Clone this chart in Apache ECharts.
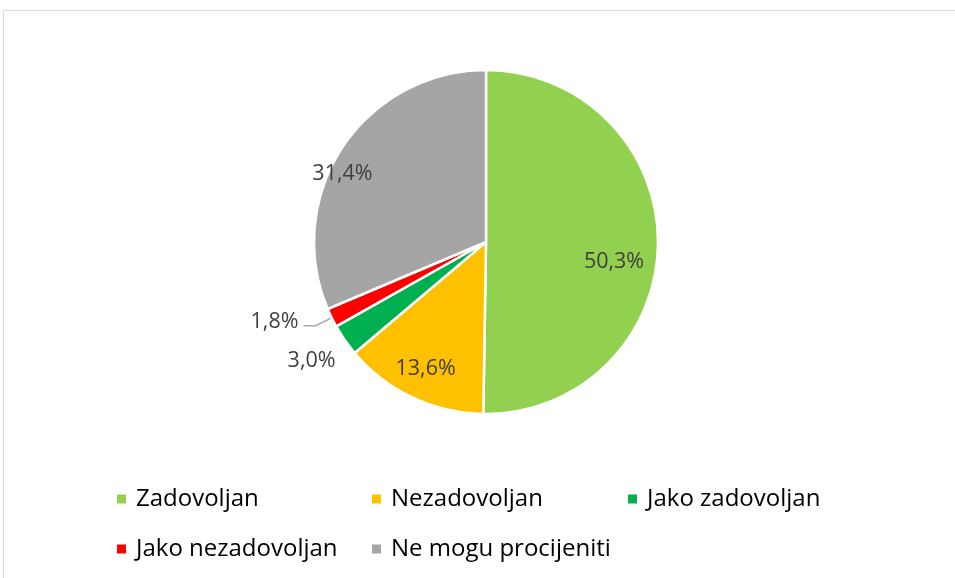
<!DOCTYPE html>
<html>
<head>
<meta charset="utf-8">
<script src="https://cdn.jsdelivr.net/npm/echarts@6/dist/echarts.min.js"></script>
<style>html,body{margin:0;padding:0;background:#fff}#c{width:955px;height:578px}</style>
</head>
<body>
<div id="c"></div>
<script>
const categories = ['Zadovoljan', 'Nezadovoljan', 'Jako zadovoljan', 'Jako nezadovoljan', 'Ne mogu procijeniti'];
const values = [50.3, 13.6, 3.0, 1.8, 31.4];
const colors = ['#92D050', '#FFC000', '#00B050', '#FF0000', '#A5A5A5'];

const FONT = '"Open Sans", sans-serif';
const fmt = v => v.toFixed(1).replace('.', ',') + '%';

// label styling per category (inside vs outside)
const labelStyle = {
  'Zadovoljan': { position: 'inside', offset: [-13, 19] },
  'Nezadovoljan': { position: 'inside', offset: [0, -1] },
  'Jako zadovoljan': { position: 'outside', offset: [4, 15], line: false, length: 10, length2: 0 },
  'Jako nezadovoljan': { position: 'outside', offset: [0, -4], line: true, length: 18, length2: 12 },
  'Ne mogu procijeniti': { position: 'inside', offset: [-26, 10] }
};

const mainData = categories.map((c, i) => ({ name: c, value: values[i], itemStyle: { color: colors[i] } }));
const labelData = categories.map((c, i) => {
  const s = labelStyle[c];
  return {
    name: c, value: values[i],
    label: { position: s.position, offset: s.offset },
    labelLine: { show: !!s.line, length: s.length || 0, length2: s.length2 || 0 }
  };
});

const legendPos = [
  { left: 115, top: 487 },
  { left: 370, top: 487 },
  { left: 626, top: 487 },
  { left: 115, top: 537 },
  { left: 370, top: 537 }
];
const legends = categories.map((c, i) => ({
  data: [c],
  left: legendPos[i].left, top: legendPos[i].top,
  orient: 'horizontal',
  icon: 'rect', itemWidth: 11, itemHeight: 11, itemGap: 0,
  padding: 0,
  textStyle: { fontFamily: FONT, fontSize: 24, color: '#000', padding: [0, 0, 0, 4] },
  selectedMode: false
}));

const chart = echarts.init(document.getElementById('c'), null, { renderer: 'canvas' });
chart.setOption({
  backgroundColor: '#fff',
  animation: false,
  graphic: [{
    type: 'rect', silent: true,
    shape: { x: 3.5, y: 10.5, width: 1000, height: 700 },
    style: { fill: 'none', stroke: '#D9D9D9', lineWidth: 1 }
  }],
  legend: legends,
  series: [
    {
      type: 'pie',
      center: [486, 242],
      radius: [0, 172],
      startAngle: 90,
      clockwise: true,
      silent: true,
      label: { show: false },
      labelLine: { show: false },
      itemStyle: { borderColor: '#fff', borderWidth: 2.5 },
      data: mainData
    },
    {
      type: 'pie',
      center: [486, 242],
      radius: [104, 172],
      startAngle: 90,
      clockwise: true,
      silent: true,
      avoidLabelOverlap: false,
      itemStyle: { color: 'rgba(0,0,0,0)', borderWidth: 0 },
      label: {
        show: true,
        fontFamily: FONT, fontSize: 21.5, color: '#404040',
        formatter: p => fmt(p.value),
        distanceToLabelLine: 5
      },
      labelLine: { lineStyle: { color: '#A6A6A6', width: 1.5 } },
      data: labelData
    }
  ]
});
</script>
</body>
</html>
